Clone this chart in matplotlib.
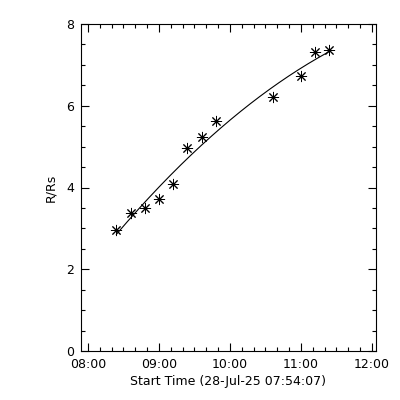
import matplotlib

matplotlib.use("Agg")
import matplotlib.pyplot as plt
import numpy as np
from matplotlib.ticker import MultipleLocator, FuncFormatter

# Observation times (decimal hours, 28-Jul-25) and heights in solar radii
times_h = [8.40, 8.60, 8.80, 9.00, 9.20, 9.40, 9.60, 9.80, 10.60, 11.00, 11.20, 11.40]
heights = [2.96, 3.38, 3.49, 3.71, 4.08, 4.96, 5.24, 5.62, 6.21, 6.73, 7.31, 7.36]

start_h = 7 + 54 / 60 + 7 / 3600
end_h = 12.057
xticks_h = [8, 9, 10, 11, 12]

t = np.array(times_h)
h = np.array(heights)

# second order fit of height-time
coef = np.polyfit(t - start_h, h, 2)
tf = np.linspace(t.min(), t.max(), 200)
hf = np.polyval(coef, tf - start_h)

fig = plt.figure(figsize=(4, 4), dpi=100)
ax = fig.add_axes([81 / 400, 49 / 400, 295 / 400, 327 / 400])

ax.plot(tf, hf, color="black", linewidth=0.8)
ax.plot(t, h, linestyle="none", marker=(8, 2, 0), markersize=8,
        markeredgecolor="black", markeredgewidth=0.7, color="black")

ax.set_xlim(start_h, end_h)
ax.set_ylim(0, 8)
ax.set_xticks(xticks_h)
ax.xaxis.set_minor_locator(MultipleLocator(1 / 6))
ax.yaxis.set_major_locator(MultipleLocator(2))
ax.yaxis.set_minor_locator(MultipleLocator(0.5))
ax.xaxis.set_major_formatter(FuncFormatter(lambda v, p: "%02d:00" % round(v)))
ax.yaxis.set_major_formatter(FuncFormatter(lambda v, p: "%d" % round(v)))

ax.tick_params(which="both", direction="in", top=True, right=True,
               labelsize=9, width=0.8, pad=5)
ax.tick_params(which="major", length=6)
ax.tick_params(which="minor", length=3)
for s in ax.spines.values():
    s.set_linewidth(0.8)

ax.set_xlabel("Start Time (28-Jul-25 07:54:07)", fontsize=9, labelpad=3)
ax.set_ylabel("R/Rs", fontsize=9, labelpad=6)

fig.savefig("out.png", dpi=100, facecolor="white")
